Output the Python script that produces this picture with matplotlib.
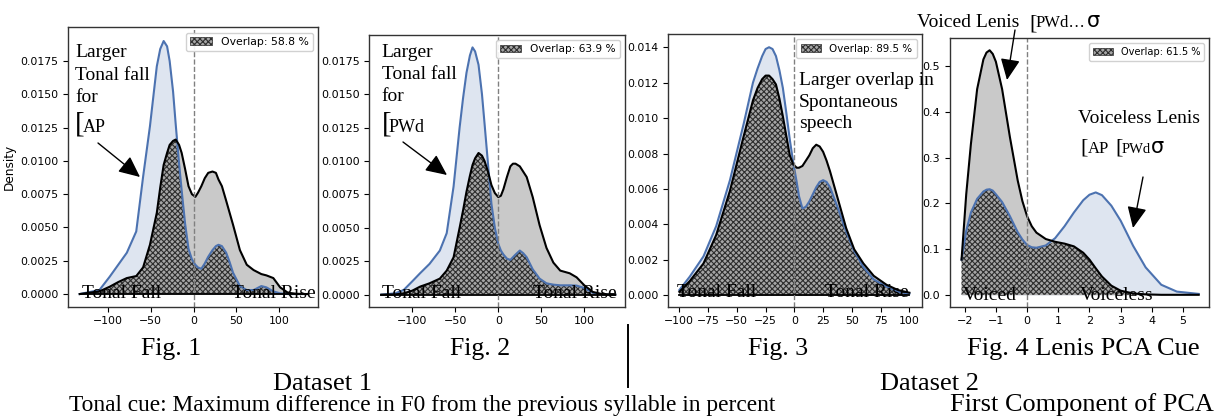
import numpy as np
import matplotlib
matplotlib.use("Agg")
import matplotlib.pyplot as plt
from matplotlib.patches import Patch, FancyArrowPatch

# ---------------- data ----------------
p1_x = [-133, -110, -98, -88, -78, -67, -59, -51, -43, -39, -35, -31, -28, -24, -21, -17, -14, -10,
        -6, -2, 2, 5, 9, 13, 17, 22, 26, 29, 33, 38, 42, 46, 54, 62, 70, 79, 85, 93, 101, 110, 120, 133]
p1_blue = [0, .0003, .0013, .0022, .0031, .0047, .0088, .0126, .0171, .0184, .0190, .0186, .0175,
           .0152, .0128, .0098, .0078, .0053, .0034, .0026, .0022, .0020, .0019, .0023, .0028, .0033,
           .0036, .0037, .0036, .0031, .0024, .0016, .0006, .0003, .0003, .0006, .0005, .0002,
           .00005, 0, 0, 0]
p1_black = [0, .0002, .00055, .0009, .0012, .00135, .0020, .0037, .0061, .0080, .0097, .0106, .0112,
            .0115, .0116, .0112, .0106, .0094, .0081, .0075, .0073, .0076, .0081, .0087, .0091, .0092,
            .0091, .0086, .0081, .0070, .0061, .0052, .0033, .0022, .0018, .0015, .0014, .0012,
            .0005, .0001, .00002, 0]

p2_x = [-136, -120, -110, -100, -91, -80, -68, -60, -52, -45, -41, -37, -33, -30, -27, -23, -19, -16,
        -12, -8, -4, 0, 3, 6, 10, 14, 17, 20, 25, 29, 33, 40, 48, 56, 64, 72, 83, 91, 100, 110, 120, 136]
p2_blue = [0, .0001, .00035, .0010, .0016, .0023, .0033, .0046, .0081, .0125, .0147, .0166, .0179,
           .0185, .0182, .0172, .0150, .0128, .0098, .0068, .0050, .0038, .0033, .0030, .0027, .0026,
           .0028, .0030, .0033, .0031, .0028, .0019, .0012, .00085, .00075, .0007, .0007, .00068,
           .0005, .00015, .00003, 0]
p2_black = [0, .00002, .0001, .0003, .0006, .00085, .0012, .0018, .0028, .0050, .0063, .0077, .0089,
            .0097, .0102, .0106, .0104, .0100, .0092, .0082, .0076, .0073, .0074, .0079, .0088, .0096,
            .0098, .0098, .0096, .0092, .0088, .0073, .0052, .0035, .0024, .0018, .0016, .0013,
            .0007, .0002, .00005, 0]

p3_x = [-100, -91, -79, -68, -56, -44, -36, -32, -28, -25, -22, -19, -16, -13, -10, -7, -4, -1, 2, 4,
        7, 10, 13, 16, 19, 22, 25, 28, 31, 38, 45, 52, 60, 69, 80, 90, 100]
p3_blue = [.0003, .00105, .0022, .0039, .0065, .0097, .0120, .0128, .0135, .0139, .0140, .0139, .0135,
           .0127, .0117, .0103, .0088, .0075, .0064, .0056, .0049, .0050, .0053, .0057, .0061, .0064,
           .0065, .0064, .0061, .0049, .0036, .0025, .0016, .0009, .0005, .0002, .0001]
p3_black = [.0002, .0008, .0018, .0034, .0059, .0090, .0110, .0117, .0122, .0124, .0124, .0122, .0119,
            .0111, .0101, .0090, .0079, .0074, .0072, .0072, .0073, .0076, .0079, .0083, .0085, .0084,
            .0081, .0076, .0070, .0054, .0038, .0026, .0018, .0011, .0006, .0003, .00015]

p4_x = [-2.1, -1.95, -1.8, -1.6, -1.4, -1.3, -1.2, -1.1, -1.0, -0.8, -0.55, -0.3, -0.15, 0.0, 0.15,
        0.3, 0.6, 0.9, 1.2, 1.5, 1.8, 2.0, 2.2, 2.4, 2.7, 3.0, 3.4, 3.8, 4.3, 4.8, 5.5]
p4_blue = [.077, .14, .18, .21, .226, .230, .231, .228, .22, .203, .172, .137, .121, .109, .104,
           .103, .108, .124, .150, .180, .207, .219, .224, .218, .195, .162, .107, .060, .022, .007,
           .002]
p4_black = [.077, .22, .33, .45, .515, .530, .535, .527, .51, .45, .345, .25, .205, .172, .150,
            .136, .122, .116, .112, .106, .092, .077, .058, .040, .020, .009, .003, .001, 0, 0, 0]

overlaps = [58.8, 63.9, 89.5, 61.5]
fig_labels = ["Fig. 1", "Fig. 2", "Fig. 3", "Fig. 4 Lenis PCA Cue"]
dataset_labels = ["Dataset 1", "Dataset 2"]
axis_captions = ["Tonal cue: Maximum difference in F0 from the previous syllable in percent",
                 "First Component of PCA"]

# ---------------- figure ----------------
W, H = 1221, 417
fig = plt.figure(figsize=(W / 100, H / 100), dpi=100)
plt.rcParams['hatch.linewidth'] = 0.8

BLUE = '#4c72b0'
SERIF = 'Liberation Serif'
HATCH = 'xxxxxx'
OV_FACE = '#a6a6a6'
OV_EDGE = '#2e2e2e'


def px_axes(l, r, t, b):
    return fig.add_axes([l / W, 1 - b / H, (r - l) / W, (b - t) / H])


def ftxt(x, y, s, size=14, family=SERIF, ha='left', **kw):
    fig.text(x / W, 1 - y / H, s, fontsize=size, family=family, ha=ha, va='baseline', **kw)


def arrow(x1, y1, x2, y2):
    a = FancyArrowPatch((x1 / W, 1 - y1 / H), (x2 / W, 1 - y2 / H),
                        arrowstyle='-|>,head_length=0.65,head_width=0.3', mutation_scale=20,
                        color='black', lw=1.0, transform=fig.transFigure, shrinkA=0, shrinkB=0)
    fig.add_artist(a)


panels = [
    dict(pos=(68.3, 318.3, 27.3, 306.7), x=p1_x, b=p1_blue, k=p1_black,
         xlim=(-146.3, 145.5), ylim=(-0.00095, 0.02003),
         xt=[-100, -50, 0, 50, 100], yt=np.arange(0, 0.0176, 0.0025), yf='{:.4f}', tfs=7.8, lfs=7.8),
    dict(pos=(369.3, 625.0, 34.7, 306.7), x=p2_x, b=p2_blue, k=p2_black,
         xlim=(-150, 147.3), ylim=(-0.0009, 0.01945),
         xt=[-100, -50, 0, 50, 100], yt=np.arange(0, 0.0176, 0.0025), yf='{:.4f}', tfs=8.0, lfs=7.6),
    dict(pos=(668.3, 921.7, 34.3, 306.7), x=p3_x, b=p3_blue, k=p3_black,
         xlim=(-109.6, 110.7), ylim=(-0.00064, 0.01473),
         xt=[-100, -75, -50, -25, 0, 25, 50, 75, 100], yt=np.arange(0, 0.0141, 0.002), yf='{:.3f}',
         tfs=7.8, lfs=7.4),
    dict(pos=(950.0, 1209.0, 37.7, 306.7), x=p4_x, b=p4_blue, k=p4_black,
         xlim=(-2.47, 5.83), ylim=(-0.026, 0.5625),
         xt=[-2, -1, 0, 1, 2, 3, 4, 5], yt=np.arange(0, 0.51, 0.1), yf='{:.1f}', tfs=8.0, lfs=7.1),
]

for i, p in enumerate(panels):
    ax = px_axes(*p['pos'])
    x = np.array(p['x'], dtype=float)
    yb = np.array(p['b'], dtype=float)
    yk = np.array(p['k'], dtype=float)
    ov = np.minimum(yb, yk)
    ax.fill_between(x, yb, color=BLUE, alpha=0.18, lw=0)
    ax.fill_between(x, yk, color='#c9c9c9', lw=0)
    ax.fill_between(x, ov, facecolor=OV_FACE, hatch=HATCH, edgecolor=OV_EDGE, lw=0)
    ax.plot(x, yb, color=BLUE, lw=1.5, solid_joinstyle='round')
    ax.plot(x, yk, color='black', lw=1.5, solid_joinstyle='round')
    if i < 3:
        ax.plot([x[0], x[-1]], [0, 0], color='black', lw=1.3)
    ax.axvline(0, color='gray', ls='--', lw=1.0)
    ax.set_xlim(*p['xlim'])
    ax.set_ylim(*p['ylim'])
    ax.set_xticks(p['xt'])
    ax.set_yticks(p['yt'])
    ax.set_yticklabels([p['yf'].format(v) for v in p['yt']])
    ax.tick_params(labelsize=p['tfs'], length=3.5, width=0.8)
    for s in ax.spines.values():
        s.set_color('#333333')
        s.set_linewidth(1.0)
    h = Patch(facecolor=OV_FACE, hatch=HATCH, edgecolor=OV_EDGE, lw=0.5)
    ax.legend([h], [f'Overlap: {overlaps[i]} %'], loc='upper right', fontsize=p['lfs'],
              handlelength=2.0, borderpad=0.4, framealpha=0.9)
    if i == 0:
        ax.set_ylabel('Density', fontsize=8.7, labelpad=3)

# ---------------- annotations ----------------
# panel 1
ftxt(75, 57, 'Larger')
ftxt(75, 80, 'Tonal fall')
ftxt(75, 102, 'for')
ftxt(75, 132, '[', size=21)
ftxt(82.5, 132, 'AP', size=13)
arrow(98, 143, 140, 177)
ftxt(81.7, 298, 'Tonal Fall')
ftxt(231.7, 298, 'Tonal Rise')
# panel 2
ftxt(381.7, 57, 'Larger')
ftxt(381.7, 79, 'Tonal fall')
ftxt(381.7, 101, 'for')
ftxt(381.7, 132, '[', size=21)
ftxt(389, 132, 'PWd', size=13)
arrow(403, 142, 447, 175)
ftxt(381.7, 298, 'Tonal Fall')
ftxt(532.7, 298, 'Tonal Rise')
# panel 3
ftxt(799, 85, 'Larger overlap in')
ftxt(799, 107, 'Spontaneous')
ftxt(799, 128, 'speech')
ftxt(676.7, 297, 'Tonal Fall')
ftxt(825, 297, 'Tonal Rise')
# panel 4
ftxt(917, 27, 'Voiced Lenis')
ftxt(1029, 28, '[', size=16)
ftxt(1035.5, 27, 'PWd…', size=12)
ftxt(1087, 27, 'σ', size=15, family='DejaVu Sans')
arrow(1015, 30, 1007, 80)
ftxt(1078, 122.7, 'Voiceless Lenis')
ftxt(1080.7, 153, '[', size=16)
ftxt(1087.5, 153, 'AP', size=12)
ftxt(1115, 153, '[', size=16)
ftxt(1121.7, 153, 'PWd', size=10.5)
ftxt(1150.5, 153, 'σ', size=15, family='DejaVu Sans')
arrow(1143, 177, 1133, 228)
ftxt(963, 300, 'Voiced')
ftxt(1080, 300, 'Voiceless')

# ---------------- captions ----------------
for lab, cx in zip(fig_labels, [171, 480, 778, 1083]):
    ftxt(cx, 355, lab, size=18.5 if len(lab) < 8 else 19, ha='center')
for lab, cx in zip(dataset_labels, [322.5, 930]):
    ftxt(cx, 390, lab, size=19, ha='center')
ftxt(422, 411, axis_captions[0], size=16.8, ha='center')
ftxt(1082, 411, axis_captions[1], size=18.9, ha='center')
fig.add_artist(plt.Line2D([628 / W, 628 / W], [1 - 325 / H, 1 - 387 / H], color='black', lw=1.4,
                          transform=fig.transFigure))

fig.savefig('out.png', dpi=100)
